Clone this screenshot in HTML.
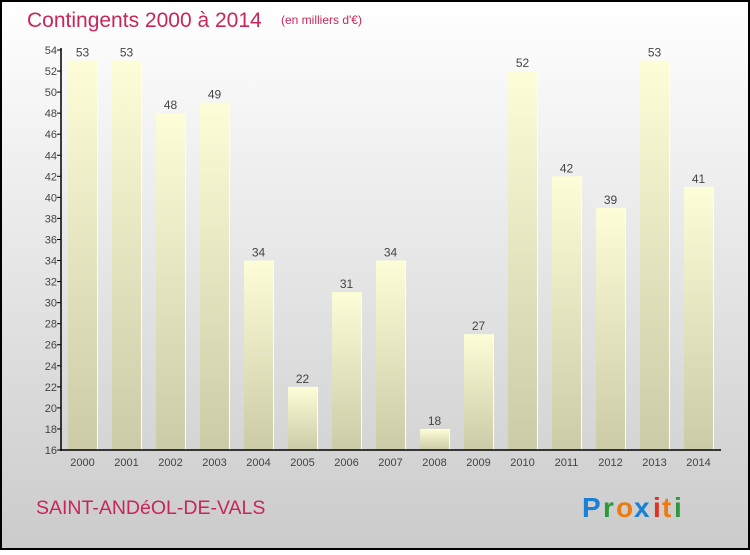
<!DOCTYPE html>
<html><head><meta charset="utf-8"><style>
html,body{margin:0;padding:0}
body{width:750px;height:550px;overflow:hidden;font-family:"Liberation Sans",sans-serif}
</style></head><body>
<svg width="750" height="550" viewBox="0 0 750 550" xmlns="http://www.w3.org/2000/svg">
<defs>
<linearGradient id="bg" x1="0" y1="0" x2="0" y2="1"><stop offset="0" stop-color="#ffffff"/><stop offset="1" stop-color="#cbcbcb"/></linearGradient>
<linearGradient id="bar" x1="0" y1="0" x2="0" y2="1"><stop offset="0" stop-color="#fdfdd8"/><stop offset="1" stop-color="#cbcba7"/></linearGradient>
</defs>
<rect x="1" y="1" width="748" height="548" fill="url(#bg)" stroke="#000" stroke-width="2"/>
<text x="27" y="27" font-size="21" fill="#c8265a">Contingents 2000 à 2014</text>
<text x="281" y="24" font-size="12" fill="#c8265a">(en milliers d'€)</text>
<g id="bars"></g>
<g id="axes"></g>
<text x="36" y="514" font-size="19.5" fill="#c8265a">SAINT-ANDéOL-DE-VALS</text>
<g font-size="28" font-weight="bold">
<text x="582" y="517" fill="#1a7fd6">P</text><text x="603" y="517" fill="#2a9a3a">r</text><text x="616" y="517" fill="#f07a10">o</text><text x="634" y="517" fill="#1a7fd6">x</text><text x="653" y="517" fill="#e03020">i</text><text x="662" y="517" fill="#f07a10">t</text><text x="674" y="517" fill="#2a9a3a">i</text>
</g>
</svg>
<script>
const years=["2000","2001","2002","2003","2004","2005","2006","2007","2008","2009","2010","2011","2012","2013","2014"];
const values=[53,53,48,49,34,22,31,34,18,27,52,42,39,53,41];
const yTicks=[16,18,20,22,24,26,28,30,32,34,36,38,40,42,44,46,48,50,52,54];
const NS="http://www.w3.org/2000/svg";
const yMin=16,yMax=54,y0=450,y1=50;
function yS(v){return y0-(v-yMin)*(y0-y1)/(yMax-yMin);}
function xS(i){return 68+i*44;}
const bw=29;
function mk(t,a,p){const e=document.createElementNS(NS,t);for(const k in a)e.setAttribute(k,a[k]);p.appendChild(e);return e;}
const bars=document.getElementById('bars'),axes=document.getElementById('axes');
values.forEach((v,i)=>{
 const r=mk('rect',{x:xS(i),y:yS(v),width:bw,height:y0-yS(v),fill:'url(#bar)'},bars);
 
 
 mk('line',{x1:xS(i)+bw+0.5,y1:yS(v),x2:xS(i)+bw+0.5,y2:y0,stroke:'#fff','stroke-width':1},bars);
 const t=mk('text',{x:xS(i)+bw/2,y:yS(v)-4,'font-size':12,fill:'#444','text-anchor':'middle'},bars);
 t.textContent=v;
 
 
 const xl=mk('text',{x:xS(i)+bw/2,y:466,'font-size':11,fill:'#444','text-anchor':'middle'},axes);
 xl.textContent=years[i];
 
 
});
const ya=mk('line',{x1:61,y1:y1-2,x2:61,y2:y0+1,stroke:'#000','stroke-width':1.5},axes);


const xa=mk('line',{x1:60,y1:y0,x2:721,y2:y0,stroke:'#000','stroke-width':1.5},axes);


yTicks.forEach(v=>{
 mk('line',{x1:57,y1:yS(v),x2:61,y2:yS(v),stroke:'#000','stroke-width':1},axes);
 const t=mk('text',{x:57,y:yS(v)+4,'font-size':11,fill:'#444','text-anchor':'end'},axes);
 t.textContent=v;
 
 
});
</script>
</body></html>
